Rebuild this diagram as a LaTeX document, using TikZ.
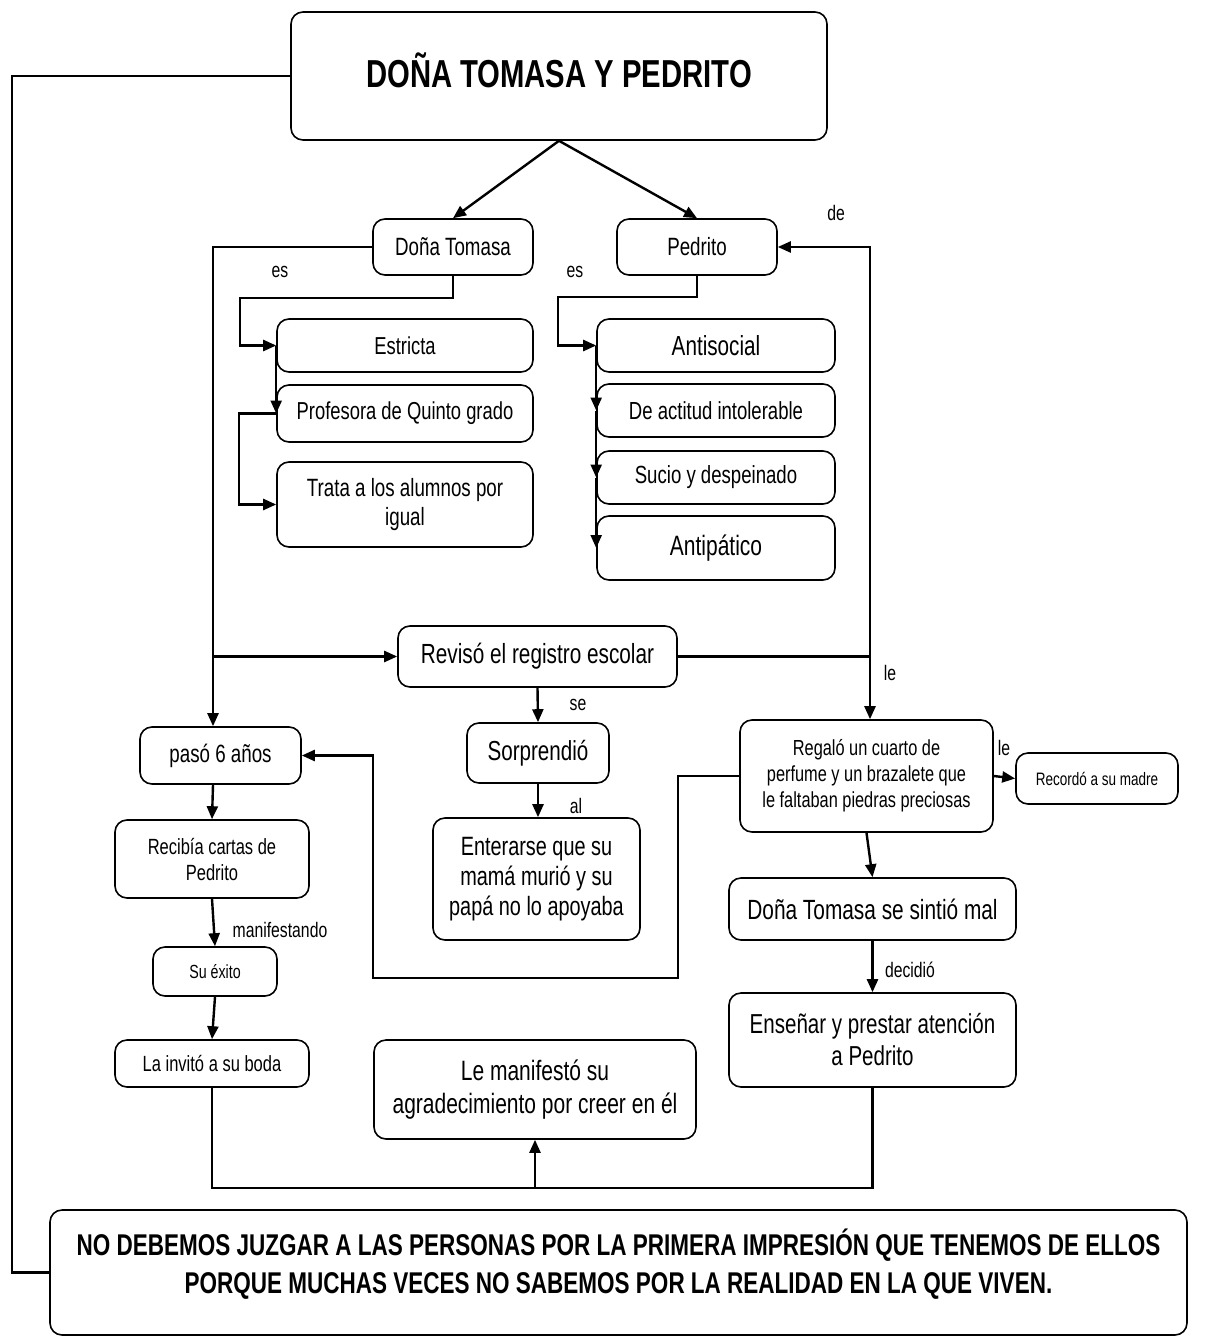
\documentclass[tikz,border=0pt]{standalone}
\usepackage{fontspec}
\setmainfont{Liberation Sans}[FakeStretch=0.75]
\usetikzlibrary{arrows.meta}
\newcommand{\fs}[2]{\fontsize{#1}{#2}\selectfont}
\tikzset{
  box/.style={draw, line width=1.6pt, rounded corners=12pt, align=center, inner sep=2pt},
  arr/.style={line width=2.4pt, -{Triangle[length=13pt,width=11pt]}},
  ln/.style={line width=2.4pt},
  lbl/.style={font=\fs{21}{23}, inner sep=0pt},
  txt/.style={align=center, inner sep=0pt}
}
\begin{document}
\begin{tikzpicture}[x=1pt,y=-1pt]
\useasboundingbox[fill=white] (0,0) rectangle (1219,1338);
% nodes
\node[box, minimum width=536pt, minimum height=128pt] (ti) at (559,76) {};
\node[txt, font=\bfseries\fs{39}{44}] (tit) at (559,70) {DOÑA TOMASA Y PEDRITO};
\node[box, minimum width=160pt, minimum height=56pt, font=\fs{25}{29}] (dt) at (453,247) {Doña Tomasa};
\node[box, minimum width=160pt, minimum height=56pt, font=\fs{25}{29}] (pe) at (697,247) {Pedrito};
\node[box, minimum width=256pt, minimum height=53pt, font=\fs{24.5}{28}] (es) at (405,345.5) {Estricta};
\node[box, minimum width=256pt, minimum height=57pt, font=\fs{24.5}{28}] (pr) at (405,413.5) {Profesora de Quinto grado};
\node[box, minimum width=256pt, minimum height=85pt, font=\fs{25}{29}] (tr) at (405,504.5) {Trata a los alumnos por\\igual};
\node[box, minimum width=238pt, minimum height=53pt, font=\fs{27.6}{30}] (an) at (716,345.5) {Antisocial};
\node[box, minimum width=238pt, minimum height=53pt, font=\fs{24.7}{28}] (ac) at (716,410.5) {De actitud intolerable};
\node[box, minimum width=238pt, minimum height=53pt, font=\fs{24.8}{28}] (su) at (716,477.5) {Sucio y despeinado};
\node[box, minimum width=238pt, minimum height=64pt, font=\fs{28}{30}] (ap) at (716,548) {Antipático};
\node[box, minimum width=279pt, minimum height=61pt, font=\fs{27.7}{30}] (rv) at (537.5,656.5) {Revisó el registro escolar};
\node[box, minimum width=142pt, minimum height=60pt, font=\fs{27.5}{30}] (so) at (538,753) {Sorprendió};
\node[box, minimum width=207pt, minimum height=122pt, font=\fs{26.5}{30}] (en) at (536.5,879) {Enterarse que su\\mamá murió y su\\papá no lo apoyaba};
\node[box, minimum width=161pt, minimum height=57pt, font=\fs{25}{28}] (pa) at (220.5,755.5) {pasó 6 años};
\node[box, minimum width=194pt, minimum height=78pt, font=\fs{22}{26}] (rc) at (212,859) {Recibía cartas de\\Pedrito};
\node[box, minimum width=124pt, minimum height=49pt, font=\fs{19}{22}] (se) at (215,971.5) {Su éxito};
\node[box, minimum width=194pt, minimum height=47pt, font=\fs{22}{24}] (li) at (212,1063.5) {La invitó a su boda};
\node[box, minimum width=253pt, minimum height=112pt, font=\fs{21.8}{26}] (rg) at (866.5,776) {Regaló un cuarto de\\perfume y un brazalete que\\le faltaban piedras preciosas};
\node[box, minimum width=162pt, minimum height=51pt, font=\fs{18}{22}] (rm) at (1097,778.5) {Recordó a su madre};
\node[box, minimum width=287pt, minimum height=62pt, font=\fs{27.8}{30}] (ds) at (872.5,909) {Doña Tomasa se sintió mal};
\node[box, minimum width=287pt, minimum height=94pt, font=\fs{27.4}{32}] (ep) at (872.5,1040) {Enseñar y prestar atención\\a Pedrito};
\node[box, minimum width=322pt, minimum height=99pt, font=\fs{28}{33}] (lm) at (535,1089.5) {Le manifestó su\\agradecimiento por creer en él};
\node[box, minimum width=1137pt, minimum height=125pt] (bt) at (618.5,1272.5) {};
\node[txt, font=\bfseries\fs{30}{38}] (btt) at (618.5,1264) {NO DEBEMOS JUZGAR A LAS PERSONAS POR LA PRIMERA IMPRESIÓN QUE TENEMOS DE ELLOS\\PORQUE MUCHAS VECES NO SABEMOS POR LA REALIDAD EN LA QUE VIVEN.};
% labels
\node[lbl] (l1) at (280,272) {es};
\node[lbl] (l2) at (575,272) {es};
\node[lbl] (l3) at (836,213) {de};
\node[lbl] (l4) at (890,673) {le};
\node[lbl] (l5) at (578,705) {se};
\node[lbl] (l6) at (576,806) {al};
\node[lbl] (l7) at (1004,748) {le};
\node[lbl] (l8) at (280,930) {manifestando};
\node[lbl] (l9) at (910,970) {decidió};
% junction coordinates
\coordinate (j1) at (213,656.5);
\coordinate (j2) at (870,656.5);
\coordinate (j3) at (535,1188);
% connectors
\draw[arr] (ti.south) -- (dt.north);
\draw[arr] (ti.south) -- (pe.north);
\draw[arr] (dt.south) |- (240,298) |- (es.west);
\draw[arr] (es.west) -- (pr.west);
\draw[arr] (pr.west) -- ++(-37,0) |- (tr.west);
\draw[arr] (pe.south) |- (558,297) |- (an.west);
\draw[arr] (an.west) -- (ac.west);
\draw[arr] (ac.west) -- (su.west);
\draw[arr] (su.west) -- (ap.west);
\draw[arr] (dt.west) -| ([xshift=-7.5pt]pa.north);
\draw[arr] (j1) -- (rv.west);
\draw[ln] (rv.east) -- (j2);
\draw[arr] (j2) |- (pe.east);
\draw[arr] (j2) -- ([xshift=3.5pt]rg.north);
\draw[arr] (rv.south) -- (so.north);
\draw[arr] (so.south) -- (so.south |- en.north);
\draw[arr] (rg.west) -- (678,776) -- (678,978) -- (373,978) |- (pa.east);
\draw[arr] ([xshift=-7.5pt]pa.south) -- (rc.north);
\draw[arr] (rc.south) -- (se.north);
\draw[arr] (se.south) -- (li.north);
\draw[arr] (rg.east) -- (rm.west);
\draw[arr] (rg.south) -- (ds.north);
\draw[arr] (ds.south) -- (ep.north);
\draw[ln] (li.south) |- (j3) -| (ep.south);
\draw[arr] (j3) -- (lm.south);
\draw[ln] (ti.west) -| (12,1272.5) -- (bt.west);
\end{tikzpicture}
\end{document}
